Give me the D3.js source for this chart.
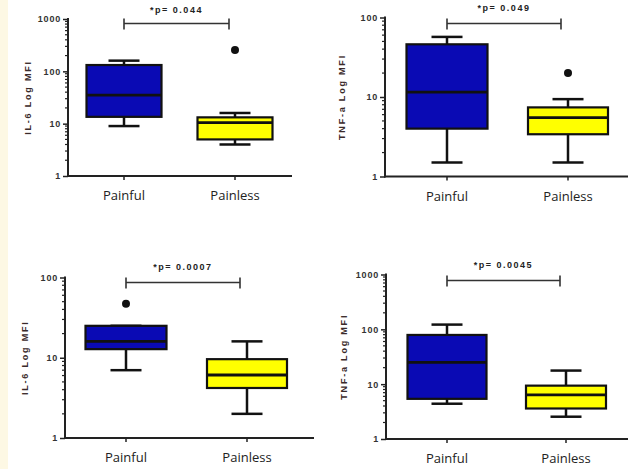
<!DOCTYPE html>
<html><head><meta charset="utf-8">
<script src="https://cdn.jsdelivr.net/npm/d3@7"></script>
<style>
html,body{margin:0;padding:0;background:#fff;}
svg{display:block;}
</style></head>
<body>
<svg id="c" width="628" height="469"></svg>
<script>
const categories = ["Painful", "Painless"];
const panelTitles = ["IL-6 Log MFI", "TNF-a Log MFI", "IL-6 Log MFI", "TNF-a Log MFI"];
const pValues = ["*p= 0.044", "*p= 0.049", "*p= 0.0007", "*p= 0.0045"];
const yMax = [1000, 100, 100, 1000];
// [whiskerLow, q1, median, q3, whiskerHigh] per category
const panel1Stats = [[9, 13.5, 35, 132, 160], [4, 5, 10.5, 13.2, 16]];
const panel2Stats = [[1.5, 4, 11.5, 46, 57], [1.5, 3.4, 5.5, 7.4, 9.4]];
const panel3Stats = [[7, 12.8, 16, 25, 25], [2, 4.2, 6.1, 9.6, 16]];
const panel4Stats = [[4.4, 5.4, 25, 79, 122], [2.55, 3.6, 6.4, 9.4, 17.7]];
const panel1Outliers = [[], [257]];
const panel2Outliers = [[], [20]];
const panel3Outliers = [[47], []];
const panel4Outliers = [[], []];
const yTickLabels = [["1", "10", "100", "1000"], ["1", "10", "100"], ["1", "10", "100"], ["1", "10", "100", "1000"]];

const stats = [panel1Stats, panel2Stats, panel3Stats, panel4Stats];
const outliers = [panel1Outliers, panel2Outliers, panel3Outliers, panel4Outliers];
const colors = ["#0a0ab4", "#ffff00"];

const layouts = [
  {ax: 68, top: 19, bot: 176, xEnd: 292, cx: [124, 235], labX: 31, brY: 23.5, brX2: 229, txtY: 13},
  {ax: 385, top: 17.5, bot: 176.5, xEnd: 628, cx: [447, 568], labX: 345, brY: 23.5, brX2: 561, txtY: 11},
  {ax: 65, top: 277.5, bot: 438, xEnd: 314, cx: [126, 247], labX: 28, brY: 282.5, brX2: 240, txtY: 270},
  {ax: 386, top: 274.5, bot: 439, xEnd: 628, cx: [447, 566], labX: 347, brY: 280.5, brX2: 560, txtY: 268}
];
const boxW = [[75, 75], [81, 80], [81, 80], [79, 80]];
const capW = 31;

const svg = d3.select("#c");
svg.append("rect").attr("x", 0).attr("y", 0).attr("width", 8).attr("height", 469).attr("fill", "#fdf8e4");

layouts.forEach((L, i) => {
  const g = svg.append("g");
  const y = d3.scaleLog().domain([1, yMax[i]]).range([L.bot, L.top]);
  const x = d3.scaleOrdinal().domain(categories).range(L.cx);

  const decades = Math.round(Math.log10(yMax[i]));
  const minor = [];
  for (let d = 0; d < decades; d++) for (let m = 2; m <= 9; m++) minor.push(m * Math.pow(10, d));
  g.selectAll(".mn").data(minor).enter().append("line")
    .attr("x1", L.ax - 3).attr("x2", L.ax).attr("y1", d => y(d)).attr("y2", d => y(d))
    .attr("stroke", "#222").attr("stroke-width", 1.2);

  const yAxis = d3.axisLeft(y).tickValues(yTickLabels[i].map(Number)).tickFormat((d, k) => yTickLabels[i][k]).tickSize(5).tickPadding(2);
  const ya = g.append("g").attr("transform", `translate(${L.ax},0)`).call(yAxis);
  ya.select(".domain").remove();
  ya.selectAll(".tick line").attr("stroke", "#222").attr("stroke-width", 1.5);
  ya.selectAll("text").attr("font-family", "Liberation Sans, Arial, sans-serif").attr("font-size", 9)
    .attr("font-weight", "bold").attr("letter-spacing", 0.8).attr("fill", "#333");

  g.append("line").attr("x1", L.ax).attr("x2", L.ax).attr("y1", L.top - 1).attr("y2", L.bot + 1).attr("stroke", "#222").attr("stroke-width", 2);
  g.append("line").attr("x1", L.ax - 1).attr("x2", L.xEnd).attr("y1", L.bot).attr("y2", L.bot).attr("stroke", "#222").attr("stroke-width", 2);

  categories.forEach(c => {
    g.append("line").attr("x1", x(c)).attr("x2", x(c)).attr("y1", L.bot).attr("y2", L.bot + 4).attr("stroke", "#222").attr("stroke-width", 1.5);
    g.append("text").attr("x", x(c)).attr("y", L.bot + 24).attr("text-anchor", "middle")
      .attr("font-family", "Open Sans, Liberation Sans, sans-serif").attr("font-size", 13).attr("fill", "#222").text(c);
  });

  g.append("text").attr("transform", `translate(${L.labX},${(L.top + L.bot) / 2}) rotate(-90)`)
    .attr("text-anchor", "middle").attr("font-family", "Liberation Sans, Arial, sans-serif")
    .attr("font-size", 9).attr("font-weight", "bold").attr("letter-spacing", 1.8).attr("fill", "#3a2a2a").text(panelTitles[i]);

  stats[i].forEach((s, k) => {
    const cx = x(categories[k]);
    const w = boxW[i][k];
    const [lo, q1, med, q3, hi] = s;
    g.append("line").attr("x1", cx).attr("x2", cx).attr("y1", y(hi)).attr("y2", y(lo)).attr("stroke", "#111").attr("stroke-width", 2.5);
    [lo, hi].forEach(v => g.append("line").attr("x1", cx - capW / 2).attr("x2", cx + capW / 2).attr("y1", y(v)).attr("y2", y(v)).attr("stroke", "#111").attr("stroke-width", 2.5));
    g.append("rect").attr("x", cx - w / 2).attr("y", y(q3)).attr("width", w).attr("height", y(q1) - y(q3))
      .attr("fill", colors[k]).attr("stroke", "#111").attr("stroke-width", 2.2);
    g.append("line").attr("x1", cx - w / 2).attr("x2", cx + w / 2).attr("y1", y(med)).attr("y2", y(med)).attr("stroke", "#111").attr("stroke-width", 2.8);
    outliers[i][k].forEach(v => g.append("circle").attr("cx", cx).attr("cy", y(v)).attr("r", 4).attr("fill", "#111"));
  });

  const x1 = x(categories[0]), x2 = L.brX2;
  g.append("line").attr("x1", x1).attr("x2", x2).attr("y1", L.brY).attr("y2", L.brY).attr("stroke", "#333").attr("stroke-width", 1.6);
  [x1, x2].forEach(xx => g.append("line").attr("x1", xx).attr("x2", xx).attr("y1", L.brY - 5).attr("y2", L.brY + 6).attr("stroke", "#333").attr("stroke-width", 1.6));
  g.append("text").attr("x", (x1 + x2) / 2).attr("y", L.txtY).attr("text-anchor", "middle")
    .attr("font-family", "Liberation Sans, Arial, sans-serif").attr("font-size", 9).attr("font-weight", "bold")
    .attr("letter-spacing", 1.5).attr("fill", "#222").text(pValues[i]);
});
</script>
</body></html>
